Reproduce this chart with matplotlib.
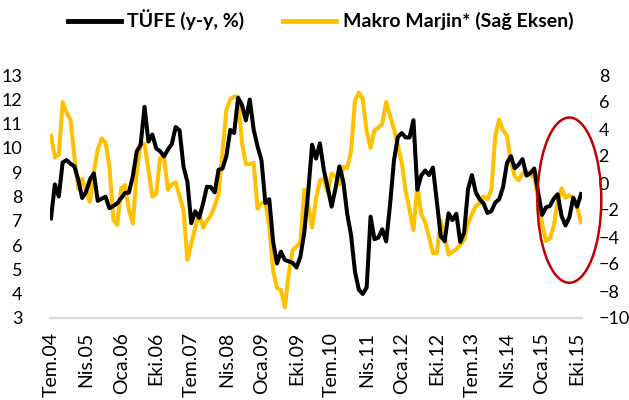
import numpy as np
import matplotlib
matplotlib.use("Agg")
import matplotlib.pyplot as plt
from matplotlib.patches import Ellipse

# monthly data, Tem.04 (Jul 2004) .. Kas.15 (Nov 2015)
tufe = [7.1, 8.5, 8.0, 9.4, 9.5, 9.35,
        9.24, 8.69, 7.94, 8.18, 8.70, 8.95, 7.82, 7.91, 7.99, 7.52, 7.61, 7.72,
        7.93, 8.15, 8.16, 8.83, 9.86, 10.12, 11.69, 10.26, 10.55, 9.98, 9.86, 9.65,
        9.93, 10.16, 10.86, 10.72, 9.23, 8.60, 6.90, 7.39, 7.12, 7.70, 8.40, 8.39,
        8.17, 9.10, 9.15, 9.66, 10.74, 10.61, 12.06, 11.77, 11.13, 11.99, 10.76, 10.06,
        9.50, 7.73, 7.89, 6.13, 5.24, 5.73, 5.39, 5.33, 5.27, 5.08, 5.53, 6.53,
        8.19, 10.13, 9.56, 10.19, 9.10, 8.37, 7.58, 8.33, 9.24, 8.62, 7.29, 6.40,
        4.90, 4.16, 3.99, 4.26, 7.17, 6.24, 6.31, 6.65, 6.15, 7.66, 9.48, 10.45,
        10.61, 10.43, 10.43, 11.14, 8.28, 8.87, 9.07, 8.88, 9.19, 7.80, 6.37, 6.16,
        7.31, 7.03, 7.29, 6.13, 6.51, 8.30, 8.88, 8.17, 7.88, 7.71, 7.32, 7.40,
        7.75, 7.89, 8.39, 9.38, 9.66, 9.16, 9.32, 9.54, 8.86, 8.96, 9.15, 8.17,
        7.24, 7.55, 7.61, 7.91, 8.09, 7.20, 6.81, 7.14, 7.95, 7.58, 8.10]

makro_marjin = [3.5, 1.9, 2.1, 6.0, 5.2, 4.7,
                2.0, -0.4, 0.3, -0.6, -1.4, 0.8, 2.5, 3.3, 3.0, 1.2, -2.7, -3.1,
                -0.4, -0.15, -2.0, -3.0, 0.8, 3.0, 2.9, 1.0, -1.0, -0.8, 1.85, 1.85,
                -0.5, -0.1, 0.05, -1.0, -2.0, -5.7, -4.5, -3.3, -2.2, -3.3, -2.8, -2.4,
                -1.7, -0.8, 2.3, 5.4, 6.2, 6.4, 6.4, 3.0, 1.4, 1.4, 1.5, -1.9,
                -1.5, -1.4, -3.2, -6.5, -7.8, -7.9, -9.2, -6.7, -5.0, -4.7, -4.4, -0.5,
                -1.6, -3.3, -1.2, 0.2, 0.3, -0.7, 0.7, 0.5, -0.1, 1.2, 1.1, 2.4,
                6.1, 6.7, 6.2, 3.8, 2.6, 3.9, 4.1, 4.4, 6.0, 5.0, 4.0, 2.8,
                1.5, -0.6, -2.0, -3.5, -0.2, -2.3, -2.9, -4.0, -5.2, -5.2, -2.8, -3.9,
                -5.3, -5.1, -4.9, -4.6, -4.2, -3.0, -2.3, -1.7, -1.5, -1.0, -1.2, -0.5,
                3.5, 4.7, 3.9, 3.5, 1.5, 0.5, 0.2, 0.7, 0.9, 0.6, 0.45, -1.2,
                -3.0, -4.3, -4.1, -3.2, -1.4, -0.4, -1.1, -0.9, -1.1, -1.8, -2.9]

xlabels = ["Tem.04", "Nis.05", "Oca.06", "Eki.06", "Tem.07", "Nis.08", "Oca.09", "Eki.09",
           "Tem.10", "Nis.11", "Oca.12", "Eki.12", "Tem.13", "Nis.14", "Oca.15", "Eki.15"]

plt.rcParams['font.family'] = ['Lato', 'DejaVu Sans']
font_size = 13

fig = plt.figure(figsize=(6.29, 4.0), dpi=100)
ax1 = fig.add_axes([0.0795, 0.205, 0.8458, 0.6075])
ax2 = ax1.twinx()

x = np.arange(len(tufe))
l1, = ax1.plot(x, tufe, color='black', linewidth=2.9, label="TÜFE (y-y, %)", zorder=3)
l2, = ax2.plot(x, makro_marjin, color='#FFC000', linewidth=2.9, label="Makro Marjin* (Sağ Eksen)")
ax1.set_zorder(ax2.get_zorder() + 1)
ax1.patch.set_visible(False)

ax1.set_xlim(-0.25, len(tufe) - 0.75)
ax1.set_ylim(3, 13)
ax1.set_yticks(np.arange(3, 14, 1))
ax2.set_ylim(-10, 8)
ax2.set_yticks(np.arange(-10, 9, 2))

ax1.set_xticks(np.arange(0, len(tufe), 9))
ax1.set_xticklabels(xlabels, rotation=90)

for ax in [ax1, ax2]:
    for s in ['top', 'left', 'right']:
        ax.spines[s].set_visible(False)
    ax.spines['bottom'].set_color('#D9D9D9')
    ax.spines['bottom'].set_linewidth(1.5)
    ax.tick_params(length=0, labelsize=font_size)
ax1.tick_params(axis='y', pad=20)
ax2.tick_params(axis='y', pad=12)
ax1.tick_params(axis='x', pad=10, labelsize=14)

# red circle around last months
ell = Ellipse((133, 7.85), 16.4, 6.8, fill=False, edgecolor='#C00000', linewidth=1.8, clip_on=False, zorder=5)
ax1.add_patch(ell)

fig.legend(handles=[l1, l2], loc='center', bbox_to_anchor=(0.51, 0.95), ncol=2, frameon=False,
           prop={'weight': 'bold', 'size': 14}, handlelength=2.7, handletextpad=0.35, columnspacing=2.0)
for line in fig.legends[0].get_lines():
    line.set_linewidth(3.5)

fig.savefig('out.png', dpi=100)
